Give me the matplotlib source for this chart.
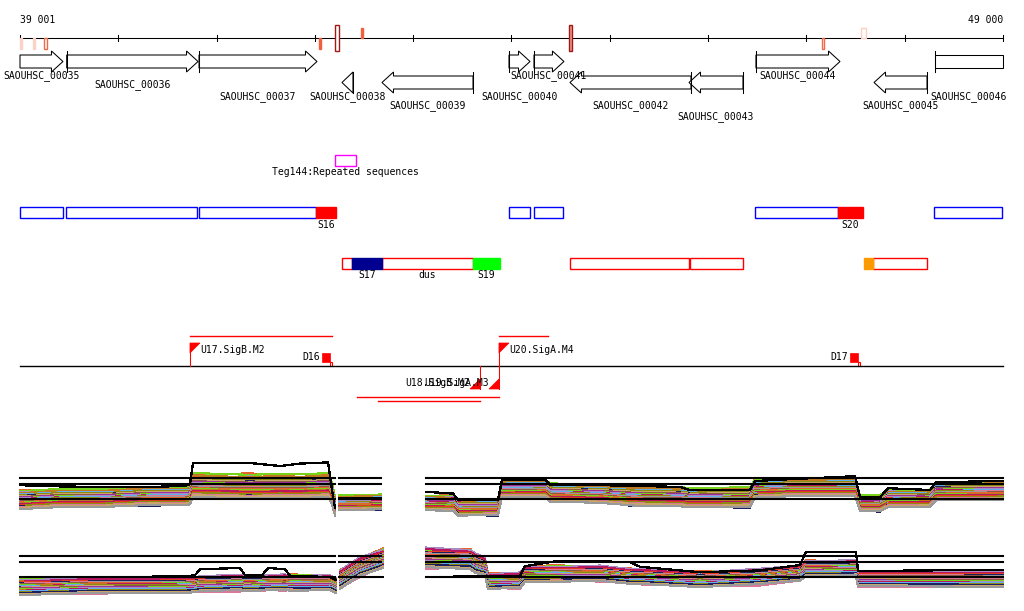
import numpy as np
import matplotlib
matplotlib.use("Agg")
import matplotlib.pyplot as plt
from matplotlib.patches import Polygon, Rectangle

# ---------------- data ----------------
VIEW_START, VIEW_END = 39001, 49000
AXIS_TICKS = [39001, 40000, 41000, 42000, 43000, 44000, 45000, 46000, 47000, 48000, 49000]
AXIS_END_LABELS = ["39 001", "49 000"]

GENE_NAMES = ["SAOUHSC_00035", "SAOUHSC_00036", "SAOUHSC_00037", "SAOUHSC_00038",
              "SAOUHSC_00039", "SAOUHSC_00040", "SAOUHSC_00041", "SAOUHSC_00042",
              "SAOUHSC_00043", "SAOUHSC_00044", "SAOUHSC_00045", "SAOUHSC_00046"]
GENE_START = [38900, 39476, 40822, 42276, 42683, 43975, 44229, 44595, 45806, 46487, 47688, 48308]
GENE_END = [39438, 40812, 42022, 42388, 43609, 44189, 44534, 45826, 46355, 47342, 48227, 49300]
GENE_STRAND = [1, 1, 1, -1, -1, 1, 1, -1, -1, 1, -1, 1]

# marks on the coordinate axis (position, width in bp, kind, colour)
MARK_POS = [39016, 39143, 39265, 42053, 42226, 42480, 44601, 47169, 47581]
MARK_WIDTH = [20, 20, 30, 20, 40, 20, 30, 25, 50]
MARK_KIND = ["down", "down", "down", "down", "both", "up", "both", "down", "up"]
MARK_FILL = ["#fbd3c6", "#fbd3c6", "white", "#f0603f", "white", "#f0603f", "#f29a88", "white", "white"]
MARK_EDGE = ["#fbd3c6", "#fbd3c6", "#f06a4a", "#f0603f", "#a01818", "#f0603f", "#a01818", "#f06a4a", "#fbd0c0"]

REPEAT_START, REPEAT_END = 42205, 42419
REPEAT_LABEL = "Teg144:Repeated sequences"

FWD_BOX_START = [38900, 39469, 40822, 43975, 44229, 46477, 48298]
FWD_BOX_END = [39438, 40801, 42012, 44189, 44524, 47322, 49300]
FWD_SEG_START = [42012, 47322]
FWD_SEG_END = [42215, 47576]
FWD_SEG_LABEL = ["S16", "S20"]
FWD_SEG_COLOR = ["#ff0000", "#ff0000"]

REV_BOX_START = [42276, 42683, 44595, 45816, 47678]
REV_BOX_END = [42378, 43609, 45806, 46355, 48227]
REV_BOX_LABEL = ["", "dus", "", "", ""]
REV_SEG_START = [42378, 43609, 47586]
REV_SEG_END = [42683, 43884, 47678]
REV_SEG_LABEL = ["S17", "S19", ""]
REV_SEG_COLOR = ["#000090", "#00ff00", "#ff9900"]

PROM_FWD_POS = [40730, 43873]
PROM_FWD_END = [42175, 44372]
PROM_FWD_LABEL = ["U17.SigB.M2", "U20.SigA.M4"]
PROM_REV_POS = [43680, 43873]
PROM_REV_END = [42642, 42429]
PROM_REV_LABEL = ["U18.SigB.M2", "U19.SigA.M3"]
TERM_POS = [42154, 47525]
TERM_LABEL = ["D16", "D17"]

# expression profiles (log2 scale), NaN = no data
TOP_X = [39001, 39408, 39815, 40325, 40679, 40730, 40761, 41341, 41646, 41849, 42134, 42175, 42205,
         42226, 42246, 42673, 42866, 43131, 43405, 43456, 43863, 43904, 44341, 44392, 44899, 45257,
         45716, 45817, 46427, 46477, 46833, 47495, 47545, 47749, 47830, 48258, 48320, 49000]
TOP_MEDIAN = [8.5, 8.7, 8.8, 9.0, 9.1, 9.2, 10.8, 10.8, 10.7, 10.8, 10.9, 9.5, 7.3,
              np.nan, 8.0, 8.0, np.nan, 7.9, 7.9, 7.2, 7.1, 10.3, 10.3, 9.6, 9.5, 9.0,
              9.0, 8.8, 8.8, 10.4, 10.5, 10.6, 7.9, 7.8, 8.7, 8.7, 9.9, 9.9]
TOP_SPREAD = [1.6, 1.6, 1.6, 1.6, 1.6, 1.6, 2.1, 2.1, 2.1, 2.1, 2.1, 1.9, 1.6,
              np.nan, 1.3, 1.3, np.nan, 1.3, 1.3, 1.4, 1.4, 1.5, 1.5, 1.6, 1.6, 1.7,
              1.7, 1.7, 1.7, 1.6, 1.6, 1.6, 1.4, 1.4, 1.5, 1.5, 1.6, 1.6]
TOP_MIX = [0.0, 0.7, 0.2, 1.0, 0.4, 0.4, 0.9, 0.1, 0.8, 0.3, 0.6, 0.6, 0.6,
           0.0, 0.2, 0.9, 0.0, 0.5, 0.1, 0.1, 1.0, 0.3, 0.8, 0.8, 0.2, 0.9,
           0.4, 0.4, 1.0, 0.1, 0.7, 0.3, 0.3, 0.9, 0.0, 0.6, 0.2, 0.8]
TOP_BLACK = [10.8, 10.6, 10.5, 10.5, 10.7, 11.0, 14.5, 14.5, 14.0, 14.4, 14.6, 10.0, 7.0,
             np.nan, 8.6, 8.6, np.nan, 9.7, 9.4, 8.4, 8.3, 11.7, 11.7, 10.9, 10.8, 10.7,
             10.5, 10.0, 10.0, 11.5, 11.8, 12.3, 8.8, 8.8, 10.3, 10.0, 11.3, 11.5]

BOT_X = [39001, 39815, 40679, 40781, 40832, 41239, 41290, 41463, 41524, 41697, 41748, 42154, 42215,
         42236, 42256, 42459, 42693, 42900, 43131, 43578, 43629, 43731, 43761, 44087, 44138, 44443,
         44899, 45206, 45308, 45919, 46528, 46935, 46996, 47505, 47525, 49000]
BOT_MEDIAN = [7.0, 7.2, 7.3, 7.4, 7.5, 7.6, 7.6, 7.6, 7.7, 7.7, 7.7, 7.7, 7.2,
              np.nan, 8.3, 10.3, 11.8, np.nan, 11.8, 11.7, 11.0, 10.4, 8.0, 8.0, 9.1, 9.2,
              9.2, 8.8, 8.7, 8.3, 8.6, 9.3, 10.1, 10.1, 8.3, 8.3]
BOT_SPREAD = [1.4, 1.4, 1.4, 1.4, 1.4, 1.4, 1.4, 1.4, 1.4, 1.4, 1.4, 1.4, 1.4,
              np.nan, 1.7, 1.7, 1.7, np.nan, 1.8, 1.8, 1.8, 1.6, 1.4, 1.4, 1.4, 1.4,
              1.4, 1.4, 1.4, 1.4, 1.4, 1.4, 1.4, 1.4, 1.4, 1.4]
BOT_MIX = [0.0, 0.8, 0.3, 0.3, 0.6, 1.0, 0.2, 0.7, 0.4, 0.9, 0.1, 0.5, 0.5,
           0.0, 0.3, 0.8, 0.1, 0.0, 0.9, 0.2, 0.6, 0.6, 0.1, 0.9, 0.4, 0.0,
           0.8, 0.3, 0.7, 0.1, 1.0, 0.5, 0.2, 0.8, 0.8, 0.3]
BOT_BLACK = [8.5, 8.5, 8.6, 8.8, 9.8, 10.0, 8.8, 8.8, 10.0, 9.8, 8.7, 8.5, 8.0,
             np.nan, 8.5, 8.5, 8.5, np.nan, 8.5, 8.6, 8.6, 8.7, 8.7, 8.7, 10.3, 11.1,
             11.1, 11.0, 10.2, 9.3, 9.6, 10.5, 12.7, 12.7, 9.5, 9.7]

TOP_OFFSETS = [0.98, 0.81, 0.72, 0.60, 0.55, 0.47, 0.43, 0.37, 0.33, 0.30, 0.26, 0.21, 0.19, 0.15,
               0.12, 0.08, 0.06, 0.02, -0.01, -0.04, -0.07, -0.10, -0.13, -0.17, -0.20, -0.23,
               -0.27, -0.31, -0.34, -0.39, -0.43, -0.48, -0.53, -0.59, -0.64, -0.71, -0.78,
               -0.86, -0.93, -1.05]
TOP_OFFSETS_B = [0.72, 0.98, 0.47, 0.81, 0.30, 0.60, 0.21, 0.55, 0.37, 0.12, 0.43, 0.02, 0.33, 0.26,
                 -0.10, 0.19, 0.15, -0.13, 0.08, 0.06, -0.27, -0.01, -0.20, -0.04, -0.39, -0.07,
                 -0.17, -0.48, -0.23, -0.31, -0.64, -0.34, -0.43, -0.86, -0.53, -0.59, -1.05,
                 -0.71, -0.78, -0.93]
BOT_OFFSETS = [0.92, 0.78, 0.66, 0.58, 0.51, 0.45, 0.41, 0.36, 0.31, 0.28, 0.24, 0.20, 0.17, 0.13,
               0.10, 0.07, 0.04, 0.01, -0.03, -0.06, -0.09, -0.12, -0.16, -0.19, -0.22, -0.26,
               -0.30, -0.33, -0.37, -0.41, -0.46, -0.51, -0.56, -0.62, -0.68, -0.75, -0.82,
               -0.90, -0.97, -1.08]
BOT_OFFSETS_B = [0.58, 0.66, 0.92, 0.41, 0.78, 0.28, 0.51, 0.17, 0.45, 0.36, 0.07, 0.31, 0.24, -0.06,
                 0.20, 0.13, -0.16, 0.10, 0.04, 0.01, -0.22, -0.03, -0.30, -0.09, -0.12, -0.41,
                 -0.19, -0.26, -0.56, -0.33, -0.37, -0.75, -0.46, -0.51, -0.97, -0.62, -0.68,
                 -1.08, -0.82, -0.90]
COND_COLORS = ["#e8632b", "#77d41a", "#a98bc4", "#c07a22", "#b8165e", "#5fb0ea", "#e23c1f",
               "#8f8a12", "#1d1f5e", "#d9789a", "#c9a56a", "#9a9a9a", "#8c5a3c", "#9c2f9c"]
REF_LEVELS = [12.0, 11.0, 8.5]
DATA_SEGMENTS = [(39001, 42205), (42246, 42673), (43131, 49000)]

# ---------------- layout ----------------
FONT = "DejaVu Sans Mono"
FS = 7
PX_PER_BP = 983 / 9999
def bp(npx):
    return npx / PX_PER_BP

fig = plt.figure(figsize=(10.24, 6.11), dpi=100)
ax = fig.add_axes([0, 0, 1, 1])
xl0 = VIEW_START - bp(20)
ax.set_xlim(xl0, xl0 + bp(1024))
ax.set_ylim(611, 0)
ax.axis("off")

LW = 0.75
# coordinate axis
AXIS_Y = 38
ax.plot([VIEW_START, VIEW_END], [AXIS_Y, AXIS_Y], color="black", lw=LW)
for t in AXIS_TICKS:
    ax.plot([t, t], [AXIS_Y - 3, AXIS_Y + 3], color="black", lw=LW)
ax.text(VIEW_START, 20, AXIS_END_LABELS[0], ha="left", va="center", fontsize=FS, family=FONT)
ax.text(VIEW_END, 20, AXIS_END_LABELS[1], ha="right", va="center", fontsize=FS, family=FONT)

for p, w, k, fc, ec in zip(MARK_POS, MARK_WIDTH, MARK_KIND, MARK_FILL, MARK_EDGE):
    if k == "down":
        y0, y1 = AXIS_Y, AXIS_Y + 11
    elif k == "up":
        y0, y1 = AXIS_Y - 10, AXIS_Y
    else:
        y0, y1 = AXIS_Y - 13, AXIS_Y + 13
    ax.add_patch(Rectangle((p - w / 2, y0), w, y1 - y0, facecolor=fc, edgecolor=ec, lw=1.0, zorder=3))

# genes
LABEL_Y = [76, 85, 97, 97, 106, 97, 76, 106, 117, 76, 106, 97]
HEAD = bp(11.5)
for name, s, e, st, ly in zip(GENE_NAMES, GENE_START, GENE_END, GENE_STRAND, LABEL_Y):
    vs, ve = max(s, VIEW_START), min(e, VIEW_END)
    if st == 1:
        yc = 61.5
        if e <= VIEW_END:
            hb = max(vs, e - HEAD)
            pts = [(vs, yc - 6.5), (hb, yc - 6.5), (hb, yc - 10.5), (e, yc), (hb, yc + 10.5),
                   (hb, yc + 6.5), (vs, yc + 6.5)]
        else:
            pts = [(vs, yc - 6.5), (ve, yc - 6.5), (ve, yc + 6.5), (vs, yc + 6.5)]
        bar = s if s >= VIEW_START else None
    else:
        yc = 82.5
        if s >= VIEW_START:
            hb = min(ve, s + HEAD)
            pts = [(ve, yc - 6.5), (hb, yc - 6.5), (hb, yc - 10.5), (s, yc), (hb, yc + 10.5),
                   (hb, yc + 6.5), (ve, yc + 6.5)]
        else:
            pts = [(vs, yc - 6.5), (ve, yc - 6.5), (ve, yc + 6.5), (vs, yc + 6.5)]
        bar = e if e <= VIEW_END else None
    ax.add_patch(Polygon(pts, closed=True, facecolor="white", edgecolor="black", lw=LW, zorder=2))
    if bar is not None:
        ax.plot([bar, bar], [yc - 10.5, yc + 10.5], color="black", lw=LW, zorder=3)
    ax.text((vs + ve) / 2, ly, name, ha="center", va="center", fontsize=FS, family=FONT, zorder=4)

# repeat
ax.add_patch(Rectangle((REPEAT_START, 155), REPEAT_END - REPEAT_START, 11, facecolor="none",
                       edgecolor="#ff00ff", lw=1.0))
ax.text((REPEAT_START + REPEAT_END) / 2, 172, REPEAT_LABEL, ha="center", va="center",
        fontsize=FS, family=FONT)

# feature rows
FWD_Y, REV_Y, ROW_H = 207, 258, 10.5
for s, e in zip(FWD_BOX_START, FWD_BOX_END):
    vs, ve = max(s, VIEW_START), min(e, VIEW_END - bp(1))
    ax.add_patch(Rectangle((vs, FWD_Y), ve - vs, ROW_H, facecolor="white", edgecolor="#0000ff", lw=1.0))
for s, e, lab, c in zip(FWD_SEG_START, FWD_SEG_END, FWD_SEG_LABEL, FWD_SEG_COLOR):
    ax.add_patch(Rectangle((s, FWD_Y), e - s, ROW_H, facecolor=c, edgecolor=c, lw=1.0))
    ax.text((s + e) / 2, FWD_Y + 18, lab, ha="center", va="center", fontsize=FS, family=FONT)
for s, e, lab in zip(REV_BOX_START, REV_BOX_END, REV_BOX_LABEL):
    ax.add_patch(Rectangle((s, REV_Y), e - s, ROW_H, facecolor="white", edgecolor="#ff0000", lw=1.0))
    if lab:
        ax.text((s + e) / 2, REV_Y + 17, lab, ha="center", va="center", fontsize=FS, family=FONT)
for s, e, lab, c in zip(REV_SEG_START, REV_SEG_END, REV_SEG_LABEL, REV_SEG_COLOR):
    ax.add_patch(Rectangle((s, REV_Y), e - s, ROW_H, facecolor=c, edgecolor=c, lw=1.0, zorder=3))
    if lab:
        ax.text((s + e) / 2, REV_Y + 17, lab, ha="center", va="center", fontsize=FS, family=FONT)

# promoter / terminator track
TRK_Y = 366
RED = "#ff0000"
ax.plot([VIEW_START, VIEW_END], [TRK_Y, TRK_Y], color="black", lw=1.0)
for p, e, lab in zip(PROM_FWD_POS, PROM_FWD_END, PROM_FWD_LABEL):
    ax.plot([p, p], [TRK_Y, 343], color=RED, lw=LW)
    ax.add_patch(Polygon([(p, 343), (p + bp(10), 343), (p, 353)], closed=True, facecolor=RED,
                         edgecolor=RED, lw=0.5))
    ax.plot([p, e], [336, 336], color=RED, lw=1.0)
    ax.text(p + bp(10), 350, lab, ha="left", va="center", fontsize=FS, family=FONT)
for i, (p, e, lab) in enumerate(zip(PROM_REV_POS, PROM_REV_END, PROM_REV_LABEL)):
    ax.plot([p, p], [TRK_Y, 389], color=RED, lw=LW)
    ax.add_patch(Polygon([(p, 389), (p - bp(10), 389), (p, 379)], closed=True, facecolor=RED,
                         edgecolor=RED, lw=0.5))
    ax.plot([e, p], [401 - 4 * i, 401 - 4 * i], color=RED, lw=1.0)
    ax.text(p - bp(10), 383, lab, ha="right", va="center", fontsize=FS, family=FONT)
for p, lab in zip(TERM_POS, TERM_LABEL):
    ax.add_patch(Rectangle((p - bp(8), 353), bp(8), 9, facecolor=RED, edgecolor=RED, lw=0.5))
    ax.add_patch(Rectangle((p, 362), bp(2.5), 4, facecolor="white", edgecolor=RED, lw=0.8))
    ax.text(p - bp(10), 357, lab, ha="right", va="center", fontsize=FS, family=FONT)

# expression panels
def panel(y_top_px, y_bot_px, xs, med, spread, mix, black, offs_a, offs_b):
    pax = fig.add_axes([0, (611 - y_bot_px) / 611, 1, (y_bot_px - y_top_px) / 611])
    pax.set_xlim(ax.get_xlim())
    pax.set_ylim(5, 18)
    pax.axis("off")
    xs = np.asarray(xs, float)
    med = np.asarray(med, float)
    spread = np.asarray(spread, float)
    mix = np.asarray(mix, float)
    for i, (oa, ob) in enumerate(zip(offs_a, offs_b)):
        vals = med + (oa * (1 - mix) + ob * mix) * spread
        pax.plot(xs, vals, color=COND_COLORS[i % len(COND_COLORS)], lw=0.8, antialiased=False)
    pax.plot(xs, np.asarray(black, float), color="black", lw=0.9, antialiased=False)
    for a, b in DATA_SEGMENTS:
        for lv in REF_LEVELS:
            pax.plot([a, b], [lv, lv], color="black", lw=1.5)
    return pax

panel(442, 520, TOP_X, TOP_MEDIAN, TOP_SPREAD, TOP_MIX, TOP_BLACK, TOP_OFFSETS, TOP_OFFSETS_B)
panel(520, 598, BOT_X, BOT_MEDIAN, BOT_SPREAD, BOT_MIX, BOT_BLACK, BOT_OFFSETS, BOT_OFFSETS_B)

fig.savefig("out.png", dpi=100)
